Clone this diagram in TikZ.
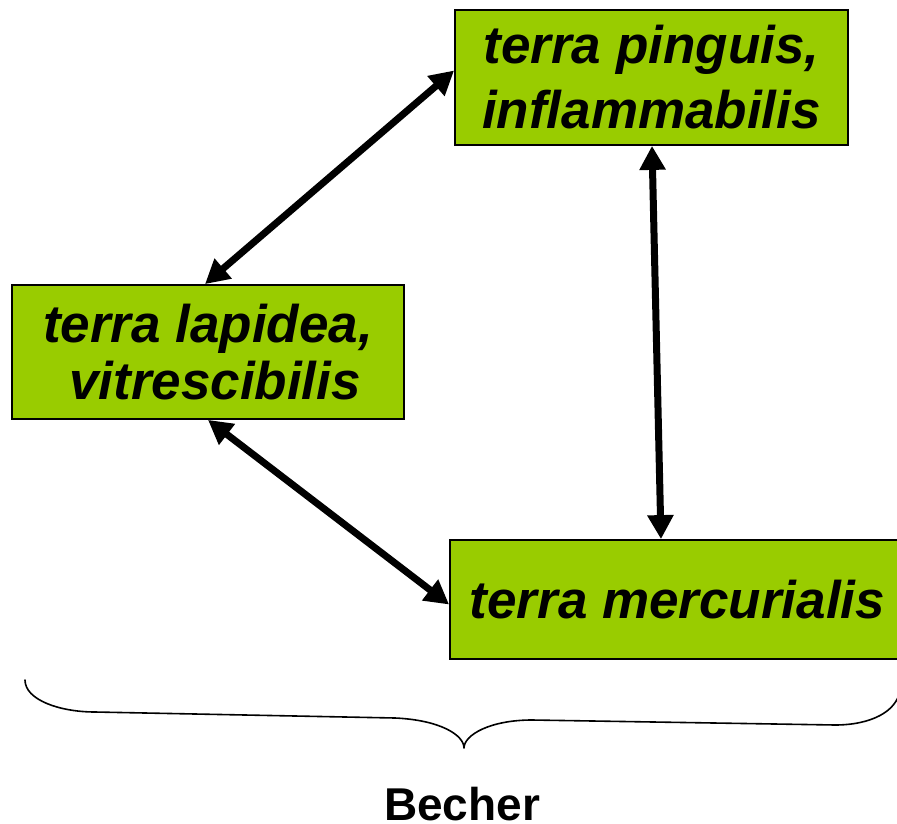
\documentclass[tikz,border=0pt]{standalone}
\usepackage{fontspec}
\setmainfont{Liberation Sans}
\usetikzlibrary{arrows.meta}
\definecolor{boxgreen}{HTML}{99CC00}
\tikzset{
  greenbox/.style={draw=black, line width=1.8pt, fill=boxgreen, rectangle, inner sep=0pt, align=center, font=\bfseries\itshape\fontsize{53}{65}\selectfont},
  biarrow/.style={line width=7pt, {Triangle[length=24pt,width=25pt]}-{Triangle[length=24pt,width=25pt]}, shorten <=0pt, shorten >=0pt},
  bracestyle/.style={line width=1.6pt, line cap=round, line join=round}
}
\begin{document}
\begin{tikzpicture}[x=1pt,y=-1pt]
\useasboundingbox (0,0) rectangle (897,824);
\node[greenbox, minimum width=393pt, minimum height=135pt] (top) at (651.5,77.5) {terra pinguis,\\inflammabilis};
\node[greenbox, minimum width=392pt, minimum height=134pt, font=\bfseries\itshape\fontsize{53}{57}\selectfont] (left) at (208,352) {terra lapidea,\\\hspace*{14pt}vitrescibilis};
\node[greenbox, minimum width=455pt, minimum height=119pt] (bot) at (677.5,599.5) {terra mercurialis};
\draw[biarrow] ([yshift=7pt]top.west) -- ([xshift=-3pt]left.north);
\draw[biarrow] (left.south) -- ([yshift=-5pt]bot.west);
\draw[biarrow] ([xshift=0.5pt]top.south) -- ([xshift=-16.5pt]bot.north);
\coordinate (bl) at (25,680);
\coordinate (btip) at (464,748);
\coordinate (br) at (900,690);
\draw[bracestyle] (bl) .. controls (25,700) and (60,712) .. (95,712) -- (395,718) .. controls (440,720) and (464,735) .. (btip) .. controls (464,735) and (490,720) .. (532,720) -- (835,725) .. controls (870,725) and (897,712) .. (br);
\node[font=\bfseries\fontsize{46}{55}\selectfont, anchor=base, inner sep=0pt] (becher) at (462,820) {Becher};
\end{tikzpicture}
\end{document}
